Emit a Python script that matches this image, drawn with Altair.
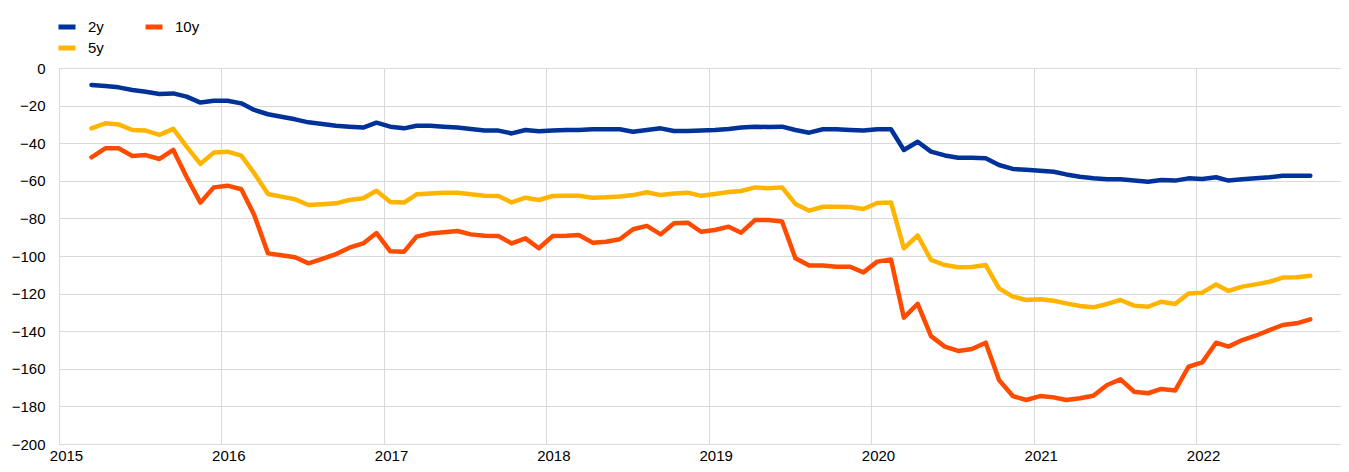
import altair as alt
import pandas as pd

start_month = "2015-03-01"
n_points = 91

two_y = [-9.0, -9.6, -10.3, -11.7, -12.6, -13.8, -13.5, -15.2, -18.4, -17.4,
         -17.4, -18.8, -22.3, -24.6, -25.9, -27.3, -28.9, -29.8, -30.7, -31.2,
         -31.7, -29.1, -31.2, -32.1, -30.7, -30.7, -31.2, -31.7, -32.4, -33.3,
         -33.3, -34.8, -33.0, -33.7, -33.3, -33.0, -33.0, -32.6, -32.6, -32.6,
         -33.9, -33.0, -32.1, -33.5, -33.5, -33.3, -33.0, -32.4, -31.7, -31.2,
         -31.4, -31.2, -33.0, -34.4, -32.6, -32.6, -33.0, -33.3, -32.6, -32.6,
         -43.6, -39.2, -44.5, -46.5, -47.7, -47.7, -48.0, -51.6, -53.7, -54.1,
         -54.6, -55.2, -56.6, -57.8, -58.7, -59.2, -59.2, -59.9, -60.5, -59.6,
         -59.9, -58.7, -59.0, -58.1, -59.9, -59.2, -58.7, -58.1, -57.3, -57.3,
         -57.3]

five_y = [-32.1, -29.4, -30.0, -33.0, -33.3, -35.6, -32.4, -41.8, -51.0, -45.0,
          -44.5, -46.6, -56.0, -67.0, -68.4, -69.8, -72.9, -72.5, -72.0, -70.2,
          -69.3, -65.3, -71.3, -71.6, -67.2, -66.7, -66.3, -66.3, -67.2, -67.9,
          -68.1, -71.5, -69.0, -70.2, -68.1, -67.9, -67.9, -69.0, -68.8, -68.4,
          -67.6, -66.1, -67.6, -66.7, -66.3, -68.0, -67.0, -66.0, -65.4, -63.5,
          -64.0, -63.5, -72.3, -75.9, -73.8, -73.8, -73.9, -75.0, -71.8, -71.5,
          -95.9, -89.1, -102.1, -104.8, -106.0, -105.8, -104.8, -117.2, -121.6, -123.4,
          -123.0, -123.8, -125.2, -126.6, -127.3, -125.5, -123.4, -126.4, -127.0, -124.3,
          -125.5, -119.9, -119.5, -115.1, -118.6, -116.3, -115.1, -113.7, -111.5, -111.3,
          -110.5]

ten_y = [-47.5, -42.7, -42.7, -46.8, -46.3, -48.4, -43.6, -58.0, -71.6, -63.5,
         -62.6, -64.5, -78.2, -98.6, -99.6, -100.7, -103.9, -101.5, -99.0, -95.6,
         -93.3, -87.8, -97.5, -97.7, -89.7, -88.0, -87.4, -86.7, -88.5, -89.2,
         -89.4, -93.3, -90.6, -95.9, -89.4, -89.2, -88.8, -92.9, -92.4, -91.1,
         -85.8, -84.0, -88.5, -82.6, -82.3, -87.1, -86.2, -84.4, -87.6, -80.9,
         -80.9, -81.7, -101.2, -105.1, -105.1, -105.7, -105.7, -108.7, -103.0, -101.9,
         -132.8, -125.5, -142.6, -148.2, -150.5, -149.5, -146.1, -166.0, -174.5, -176.6,
         -174.5, -175.2, -176.6, -175.7, -174.3, -168.6, -165.6, -172.2, -173.0, -170.7,
         -171.6, -158.9, -156.6, -146.1, -148.2, -144.7, -142.4, -139.4, -136.7, -135.8,
         -133.7]

series_names = ["2y", "5y", "10y"]
series_colors = ["#003299", "#ffb400", "#ff4b00"]
y_ticks = list(range(-200, 1, 20))
years = list(range(2015, 2023))

dates = (pd.date_range(start_month, periods=n_points, freq="MS") + pd.Timedelta(days=14)).strftime("%Y-%m-%d").tolist()

rows = []
for name, vals in [("2y", two_y), ("5y", five_y), ("10y", ten_y)]:
    for d, v in zip(dates, vals):
        rows.append({"date": d, "value": v, "series": name})
df = pd.DataFrame(rows)

FONT = "Liberation Sans"

chart = alt.Chart(df).mark_line(strokeWidth=4.5, strokeJoin="round", strokeCap="round").encode(
    x=alt.X("date:T",
            scale=alt.Scale(type="utc",
                            domain=[alt.DateTime(year=2015, month=1, date=1, utc=True),
                                    alt.DateTime(year=2022, month=11, date=23, utc=True)]),
            axis=alt.Axis(title=None, format="%Y",
                          values=[alt.DateTime(year=y, month=1, date=1, utc=True) for y in years],
                          grid=True, gridColor="#d9d9d9", gridWidth=1,
                          domain=False, ticks=False, tickSize=0,
                          labelFont=FONT, labelFontSize=15, labelColor="#000000",
                          labelBaseline="alphabetic",
                          labelPadding=16, labelOffset=7, labelAlign="center")),
    y=alt.Y("value:Q",
            scale=alt.Scale(domain=[-200, 0], nice=False, zero=False),
            axis=alt.Axis(title=None, values=y_ticks,
                          grid=True, gridColor="#d9d9d9", gridWidth=1,
                          domain=False, ticks=False, tickSize=0,
                          labelFont=FONT, labelFontSize=15, labelColor="#000000",
                          labelPadding=14)),
    color=alt.Color("series:N",
                    scale=alt.Scale(domain=series_names, range=series_colors),
                    legend=alt.Legend(title=None, orient="none", legendX=-3, legendY=-52,
                                      columns=2, symbolType="stroke", symbolSize=289,
                                      symbolStrokeWidth=5, labelFont=FONT, labelFontSize=15,
                                      labelColor="#000000", labelOffset=10,
                                      columnPadding=31, rowPadding=-1, padding=0)),
    order=alt.Order("date:T"),
).properties(
    width=1282, height=376,
    autosize=alt.AutoSizeParams(type="none"),
    padding={"left": 51, "top": 60, "right": 0, "bottom": 20},
).configure_view(stroke=None).configure(background="white")

chart.save("out.html", embed_options={"renderer": "svg", "actions": False})
